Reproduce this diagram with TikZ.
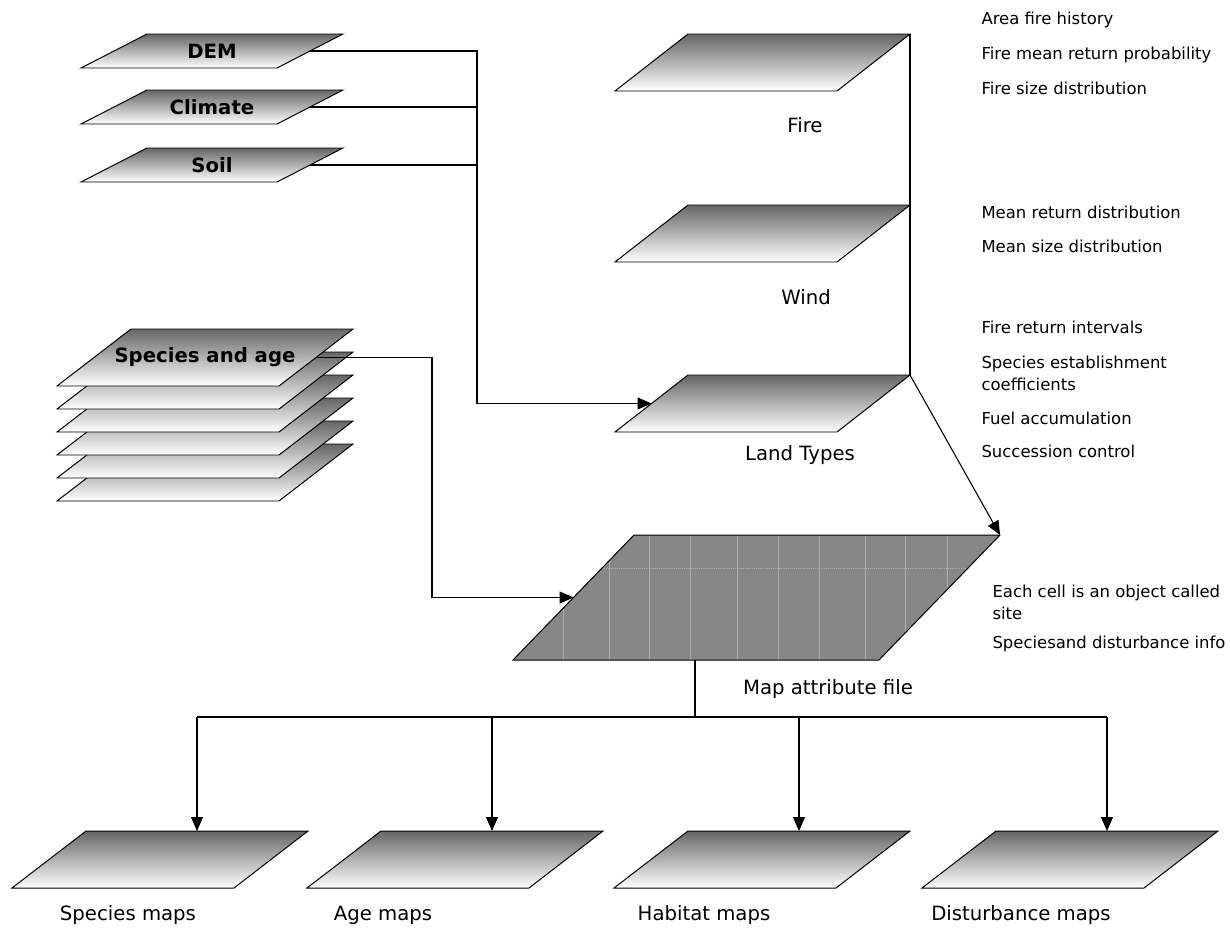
\documentclass[tikz,border=0pt]{standalone}
\usepackage{fontspec}
\setmainfont{DejaVu Sans}
\usetikzlibrary{arrows.meta}
\tikzset{
 layer/.style={draw, line width=0.7pt, top color=black!60, bottom color=white},
 arr/.style={-{Triangle[length=0.35cm, width=0.3cm]}},
 txt/.style={font=\fontsize{11.7}{15.6}\selectfont, inner sep=0pt, align=left},
 lbltxt/.style={font=\fontsize{14}{17}\selectfont, inner sep=0pt},
 hd/.style={font=\fontsize{14}{17}\selectfont\bfseries, inner sep=0pt}
}
\newcommand{\layer}[6]{%
 \coordinate (#1-bl) at (#2,#3);
 \coordinate (#1-br) at (#2+#4,#3);
 \coordinate (#1-tr) at (#2+#4+#5,#3-#6);
 \coordinate (#1-tl) at (#2+#5,#3-#6);
 \coordinate (#1-c) at (#2+#4/2+#5/2,#3-#6/2);
 \coordinate (#1-r) at (#2+#4+#5/2,#3-#6/2);
 \coordinate (#1-l) at (#2+#5/2,#3-#6/2);
 \coordinate (#1-t) at (#2+#5+#4/2,#3-#6);
 \coordinate (#1-b) at (#2+#4/2,#3);
 \shade[layer] (#1-bl) -- (#1-br) -- (#1-tr) -- (#1-tl) -- cycle;}

\begin{document}
\begin{tikzpicture}[x=0.025cm, y=-0.025cm, line width=0.75pt]
\useasboundingbox (0,0) rectangle (1230,928);

\layer{dem}{81}{68}{196}{66}{34}
\layer{climate}{81}{124}{196}{66}{34}
\layer{soil}{81}{182}{196}{66}{34}
\node[hd] (demlbl) at (dem-c) {DEM};
\node[hd] (climatelbl) at (climate-c) {Climate};
\node[hd] (soillbl) at (soil-c) {Soil};

\foreach \i/\yy in {6/501,5/478,4/455,3/432,2/409,1/386}
 \layer{spec\i}{57}{\yy}{222}{74}{57};
\node[hd] (speclbl) at (spec1-c) {Species and age};

\layer{fire}{615}{91}{222}{73}{57}
\layer{wind}{615}{262}{222}{73}{57}
\layer{land}{615}{432}{222}{73}{57}
\node[lbltxt] (firelbl) at (805,125) {Fire};
\node[lbltxt] (windlbl) at (806,297) {Wind};
\node[lbltxt] (landlbl) at (800,455) {Land Types};

\coordinate (map-bl) at (513,660);
\coordinate (map-br) at (879,660);
\coordinate (map-tr) at (1000,535);
\coordinate (map-tl) at (634,535);
\coordinate (map-l) at (573.5,597.5);
\coordinate (map-b) at (695,660);
\begin{scope}
 \clip (map-bl) -- (map-br) -- (map-tr) -- (map-tl) -- cycle;
 \fill[black!47] (500,530) rectangle (1010,665);
 \foreach \gx in {563,609,649,690,737,778,819,865,905,947}
  \draw[black!33, line width=0.6pt] (\gx,530) -- (\gx,665);
 \draw[black!32, line width=0.5pt, densely dotted] (600,568) -- (1010,568);
\end{scope}
\draw[line width=0.7pt] (map-bl) -- (map-br) -- (map-tr) -- (map-tl) -- cycle;
\node[lbltxt] (maplbl) at (828,689) {Map attribute file};

\layer{spmap}{12}{888}{222}{74}{57}
\layer{agemap}{307}{888}{222}{74}{57}
\layer{habmap}{614}{888}{222}{74}{57}
\layer{dismap}{922}{888}{222}{74}{57}
\node[lbltxt] (spmaplbl) at (128,915) {Species maps};
\node[lbltxt] (agemaplbl) at (383,915) {Age maps};
\node[lbltxt] (habmaplbl) at (704,915) {Habitat maps};
\node[lbltxt] (dismaplbl) at (1021,915) {Disturbance maps};

\node[txt, anchor=west] (n1) at (981,20) {Area fire history};
\node[txt, anchor=west] (n2) at (981,55) {Fire mean return probability};
\node[txt, anchor=west] (n3) at (981,88) {Fire size distribution};
\node[txt, anchor=west] (n4) at (981,212) {Mean return distribution};
\node[txt, anchor=west] (n5) at (981,246) {Mean size distribution};
\node[txt, anchor=west] (n6) at (981,327) {Fire return intervals};
\node[txt, anchor=west] (n7) at (981,373) {Species establishment\\coefficients};
\node[txt, anchor=west] (n8) at (981,418) {Fuel accumulation};
\node[txt, anchor=west] (n9) at (981,451) {Succession control};
\node[txt, anchor=west] (n10) at (992,602) {Each cell is an object called\\site};
\node[txt, anchor=west] (n11) at (992,644) {Speciesand disturbance info};

\coordinate (trunk) at (477,0);
\coordinate (trunk2) at (432,0);
\coordinate (split) at (695,717);
\draw[arr] (dem-r) -| (land-l -| trunk) -- (land-l);
\draw (climate-r) -- (climate-r -| trunk);
\draw (soil-r) -- (soil-r -| trunk);
\draw[arr] (spec1-r) -| (map-l -| trunk2) -- (map-l);
\draw (fire-tr) -- (land-tr);
\draw[arr] (land-tr) -- (map-tr);
\draw (map-b) -- (split);
\draw (spmap-t |- split) -- (dismap-t |- split);
\foreach \m in {spmap,agemap,habmap,dismap}
 \draw[arr] (\m-t |- split) -- (\m-t);
\end{tikzpicture}
\end{document}
